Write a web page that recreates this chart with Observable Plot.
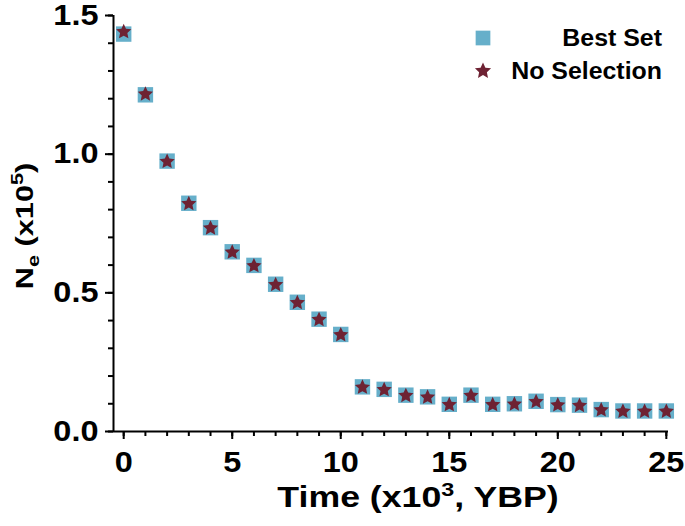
<!DOCTYPE html>
<html>
<head>
<meta charset="utf-8">
<script src="https://cdn.jsdelivr.net/npm/d3@7"></script>
<script src="https://cdn.jsdelivr.net/npm/@observablehq/plot@0.6"></script>
<style>
  html, body { margin: 0; padding: 0; background: #fff; }
  svg { font-family: "Liberation Sans", Arial, sans-serif; font-weight: bold; }
</style>
</head>
<body>
<script>
// ---- data ----
const time = [0,1,2,3,4,5,6,7,8,9,10,11,12,13,14,15,16,17,18,19,20,21,22,23,24,25];
const bestSet = [1.433,1.214,0.975,0.823,0.735,0.648,0.599,0.531,0.466,0.405,0.350,0.161,0.152,0.131,0.125,0.098,0.131,0.098,0.100,0.109,0.097,0.095,0.079,0.074,0.074,0.074];
const noSelection = [1.443,1.218,0.975,0.823,0.735,0.648,0.599,0.531,0.466,0.405,0.350,0.161,0.152,0.131,0.125,0.098,0.131,0.098,0.100,0.109,0.097,0.095,0.079,0.074,0.074,0.074];
const seriesNames = ["Best Set", "No Selection"];
const seriesColors = ["#66afca", "#6e2233"];
const xMajorTicks = [0,5,10,15,20,25];
const xMinorTicks = d3.range(0, 26, 1);
const yMajorTicks = [0, 0.5, 1.0, 1.5];
const yMinorTicks = d3.range(0, 16, 1).map(d => d / 10);
const xDomain = [-0.47, 25.1];
const yDomain = [0, 1.5];

const best = time.map((t, i) => ({t, v: bestSet[i]}));
const nosel = time.map((t, i) => ({t, v: noSelection[i]}));

// a fuller five-pointed star (inner radius 0.5 of outer), radius = sqrt(size/PI)
const fatStar = {
  draw(context, size) {
    const R = Math.sqrt(size / Math.PI), r = R * 0.48;
    for (let k = 0; k < 10; ++k) {
      const a = -Math.PI / 2 + k * Math.PI / 5, rr = k % 2 ? r : R;
      const x = rr * Math.cos(a), y = rr * Math.sin(a);
      if (k === 0) context.moveTo(x, y); else context.lineTo(x, y);
    }
    context.closePath();
  }
};

const tickFont = 29;
const svg = Plot.plot({
  width: 685,
  height: 526,
  marginLeft: 113,
  marginRight: 17,
  marginTop: 15,
  marginBottom: 95,
  style: {fontFamily: "Liberation Sans, Arial, sans-serif", fontWeight: "bold", color: "#000"},
  x: {domain: xDomain},
  y: {domain: yDomain},
  marks: [
    Plot.axisY({ticks: yMinorTicks, tickSize: 5, strokeWidth: 2, text: null, label: null}),
    Plot.axisY({ticks: yMajorTicks, tickSize: 8, tickPadding: 7, strokeWidth: 2, tickFormat: d3.format(".1f"), fontSize: tickFont, fontWeight: "bold", label: null}),
    Plot.axisX({ticks: xMinorTicks, tickSize: 5, strokeWidth: 2, text: null, label: null}),
    Plot.axisX({ticks: xMajorTicks, tickSize: 8, tickPadding: 12, strokeWidth: 2, fontSize: tickFont, fontWeight: "bold", label: null}),
    Plot.ruleX([xDomain[0]], {stroke: "#000", strokeWidth: 2}),
    Plot.ruleY([yDomain[0]], {stroke: "#000", strokeWidth: 2}),
    Plot.dot(best, {x: "t", y: "v", symbol: "square", r: 8.7, fill: seriesColors[0], stroke: "none"}),
    Plot.dot(nosel, {x: "t", y: "v", symbol: fatStar, r: 8, fill: seriesColors[1], stroke: "none", dy: 0.5})
  ]
});
document.body.appendChild(svg);

function stretch(node, k) {
  const t = node.getAttribute("transform") || "";
  node.setAttribute("transform", `${t} scale(${k},1)`);
}
// widen the tick labels to match the wide bold face of the original
d3.select(svg).selectAll("g[aria-label='y-axis tick label'] text, g[aria-label='x-axis tick label'] text")
  .each(function() { stretch(this, 1.12); });

const s = d3.select(svg);
// x title
const xt = s.append("text")
  .attr("transform", "translate(418,507) scale(1.23,1)")
  .attr("text-anchor", "middle")
  .attr("font-size", 29).attr("font-weight", "bold").attr("fill", "#000");
xt.append("tspan").text("Time (x10");
xt.append("tspan").attr("font-size", 19).attr("dy", -11).text("3");
xt.append("tspan").attr("dy", 11).text(", YBP)");

// y title
const yt = s.append("text")
  .attr("transform", "translate(33,226) rotate(-90) scale(1.28,1)")
  .attr("text-anchor", "middle")
  .attr("font-size", 24).attr("font-weight", "bold").attr("fill", "#000");
yt.append("tspan").text("N");
yt.append("tspan").attr("font-size", 17).attr("dy", 6).text("e");
yt.append("tspan").attr("dy", -6).text(" (x10");
yt.append("tspan").attr("font-size", 17).attr("dy", -10).text("5");
yt.append("tspan").attr("dy", 10).text(")");

// legend
const lg = s.append("g");
const symbols = [d3.symbolSquare, fatStar];
const sizes = [Math.PI * 8.3 * 8.3, Math.PI * 8.5 * 8.5];
seriesNames.forEach((name, i) => {
  const y = 38 + i * 33;
  lg.append("path")
    .attr("transform", `translate(483,${y})`)
    .attr("d", d3.symbol(symbols[i], sizes[i])())
    .attr("fill", seriesColors[i]);
  lg.append("text")
    .attr("transform", `translate(662,${y + 8}) scale(1.06,1)`)
    .attr("text-anchor", "end")
    .attr("font-size", 23.5).attr("font-weight", "bold").attr("fill", "#000")
    .text(name);
});
</script>
</body>
</html>
